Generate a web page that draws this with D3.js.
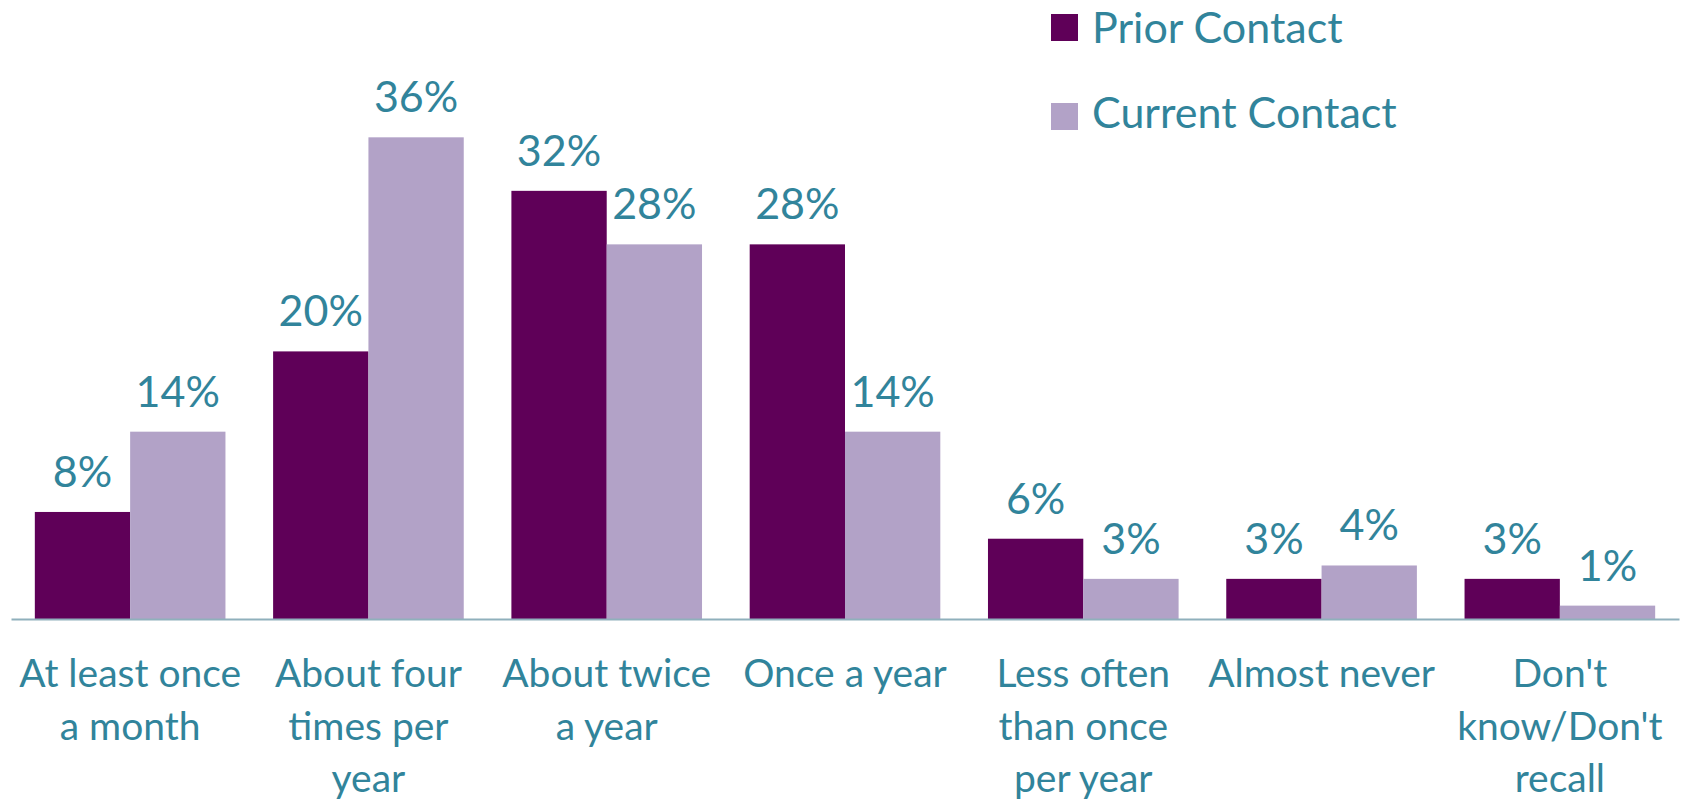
<!DOCTYPE html>
<html>
<head>
<meta charset="utf-8">
<script src="https://cdn.jsdelivr.net/npm/d3@7"></script>
<style>
  html, body { margin: 0; padding: 0; background: #ffffff; }
  svg { display: block; }
  text { font-family: Lato, "Open Sans", sans-serif; fill: #31849B; }
</style>
</head>
<body>
<svg id="chart" width="1683" height="799"></svg>
<script>
// Contact frequency, prior vs current (percent of respondents)
const categories = [
  "At least once\na month",
  "About four\ntimes per\nyear",
  "About twice\na year",
  "Once a year",
  "Less often\nthan once\nper year",
  "Almost never",
  "Don't\nknow/Don't\nrecall"
];
const seriesNames = ["Prior Contact", "Current Contact"];
const priorValues = [8, 20, 32, 28, 6, 3, 3];
const currentValues = [14, 36, 28, 14, 3, 4, 1];
const seriesColors = ["#5F0058", "#B2A2C7"];

const svg = d3.select("#chart");
const baseY = 619;

const x = d3.scaleBand()
  .domain(categories)
  .range([11, 1679])
  .paddingInner(0.2)
  .paddingOuter(0.1);

const x1 = d3.scaleBand()
  .domain(seriesNames)
  .range([0, x.bandwidth()]);

const y = d3.scaleLinear()
  .domain([0, 40])
  .range([baseY, baseY - 13.38 * 40]);

const rows = categories.map((c, i) => ({
  cat: c,
  vals: [
    { s: seriesNames[0], v: priorValues[i], color: seriesColors[0] },
    { s: seriesNames[1], v: currentValues[i], color: seriesColors[1] }
  ]
}));

const groups = svg.append("g").selectAll("g")
  .data(rows)
  .join("g")
  .attr("transform", d => `translate(${x(d.cat)},0)`);

groups.selectAll("rect")
  .data(d => d.vals)
  .join("rect")
  .attr("x", d => x1(d.s))
  .attr("y", d => y(d.v))
  .attr("width", x1.bandwidth())
  .attr("height", d => y(0) - y(d.v))
  .attr("fill", d => d.color);

groups.selectAll("text.val")
  .data(d => d.vals)
  .join("text")
  .attr("class", "val")
  .attr("x", d => x1(d.s) + x1.bandwidth() / 2)
  .attr("y", d => y(d.v) - 25)
  .attr("text-anchor", "middle")
  .style("font-size", "43px")
  .text(d => d.v + "%");

// category axis
const axis = svg.append("g")
  .attr("transform", `translate(0,${baseY})`)
  .call(d3.axisBottom(x).tickSize(0).tickFormat(""));
axis.select(".domain")
  .attr("stroke", "#8FB0BC")
  .attr("stroke-width", 2);

const labels = svg.append("g").selectAll("text")
  .data(categories)
  .join("text")
  .attr("text-anchor", "middle")
  .attr("x", d => x(d) + x.bandwidth() / 2)
  .attr("y", 687)
  .style("font-size", "39px");

labels.selectAll("tspan")
  .data(d => d.split("\n").map(line => ({ line, cx: x(d) + x.bandwidth() / 2 })))
  .join("tspan")
  .attr("x", d => d.cx)
  .attr("dy", (d, i) => i === 0 ? 0 : 52.5)
  .text(d => d.line);

// legend: swatch tops and text baselines per row
const legendSwatchY = [14, 103];
const legendTextY = [43, 128];
const legend = svg.append("g").selectAll("g")
  .data(seriesNames)
  .join("g")
  .attr("transform", "translate(1051,0)");

legend.append("rect")
  .attr("y", (d, i) => legendSwatchY[i])
  .attr("width", 27)
  .attr("height", 27)
  .attr("fill", (d, i) => seriesColors[i]);

legend.append("text")
  .attr("x", 41)
  .attr("y", (d, i) => legendTextY[i])
  .style("font-size", "43px")
  .text(d => d);
</script>
</body>
</html>
